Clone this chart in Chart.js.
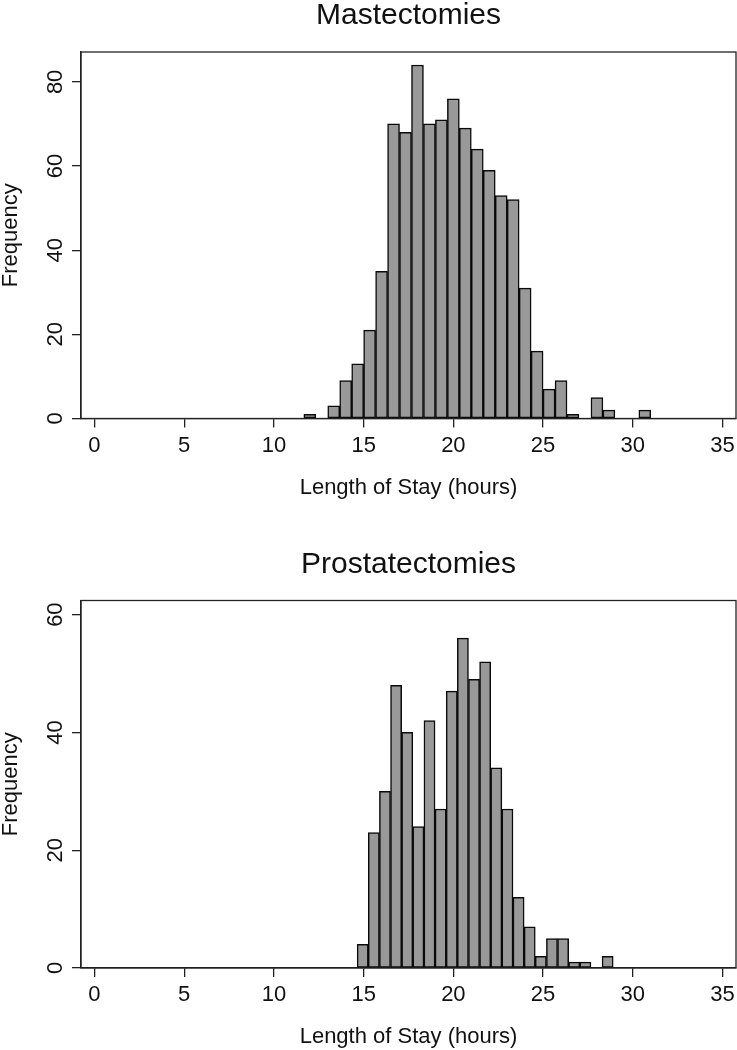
<!DOCTYPE html>
<html>
<head>
<meta charset="utf-8">
<script src="https://cdn.jsdelivr.net/npm/chart.js@4.4.1/dist/chart.umd.min.js"></script>
<style>
  body { margin: 0; background: #fff; }
  canvas { display: block; }
</style>
</head>
<body>
<canvas id="mastChart" width="737" height="525"></canvas>
<canvas id="prosChart" width="737" height="525"></canvas>
<script>
// bin centres (hours) and counts
const mastBins = [12.000, 12.667, 13.333, 14.000, 14.667, 15.333, 16.000, 16.667, 17.333, 18.000,
  18.667, 19.333, 20.000, 20.667, 21.333, 22.000, 22.667, 23.333, 24.000, 24.667,
  25.333, 26.000, 26.667, 27.333, 28.000, 28.667, 29.333, 30.000, 30.667];
const mastCounts = [1, 0, 3, 9, 13, 21, 35, 70, 68, 84,
  70, 71, 76, 69, 64, 59, 53, 52, 31, 16,
  7, 9, 1, 0, 5, 2, 0, 0, 2];

const prosBins = [14.948, 15.568, 16.189, 16.809, 17.430, 18.050, 18.670, 19.291, 19.911, 20.532,
  21.152, 21.772, 22.393, 23.013, 23.634, 24.254, 24.874, 25.495, 26.115, 26.736,
  27.356, 27.976, 28.597];
const prosCounts = [4, 23, 30, 48, 40, 24, 42, 27, 47, 56,
  49, 52, 34, 27, 12, 7, 2, 5, 5, 1,
  1, 0, 2];

const xTicks = [0, 5, 10, 15, 20, 25, 30, 35];
const xTitle = "Length of Stay (hours)";
const yTitle = "Frequency";

Chart.defaults.font.family = '"Liberation Sans", Arial, Helvetica, sans-serif';
Chart.defaults.color = "#111";

// box round the plot area + main title centred over it
const frameTitle = {
  id: "frameTitle",
  afterDraw(chart, args, opts) {
    const { ctx, chartArea: a } = chart;
    ctx.save();
    ctx.strokeStyle = "#222";
    ctx.lineWidth = 1.3;
    ctx.strokeRect(a.left, a.top, a.right - a.left, a.bottom - a.top);
    ctx.fillStyle = "#111";
    ctx.font = '30px "Liberation Sans", Arial, sans-serif';
    ctx.textAlign = "center";
    ctx.textBaseline = "alphabetic";
    ctx.fillText(opts.text, (a.left + a.right) / 2, a.top - 28);
    ctx.restore();
  }
};

function makeHist(id, title, bins, counts, yMax, pad) {
  return new Chart(document.getElementById(id), {
    type: "bar",
    data: {
      datasets: [{
        data: bins.map((b, i) => ({ x: b, y: counts[i] })),
        backgroundColor: "#999999",
        borderColor: "#0a0a0a",
        borderWidth: 1.5,
        borderSkipped: false,
        barPercentage: 1,
        categoryPercentage: 1
      }]
    },
    options: {
      responsive: false,
      animation: false,
      devicePixelRatio: 1,
      layout: { padding: pad },
      plugins: {
        legend: { display: false },
        tooltip: { enabled: false },
        frameTitle: { text: title }
      },
      scales: {
        x: {
          type: "linear",
          min: -0.75,
          max: 35.75,
          offset: false,
          afterBuildTicks: s => { s.ticks = xTicks.map(v => ({ value: v })); },
          grid: { offset: false, drawOnChartArea: false, drawTicks: true, tickLength: 9, color: "#222", lineWidth: 1.3 },
          border: { color: "#222", width: 1.3 },
          ticks: { padding: 5, maxRotation: 0, autoSkip: false, font: { size: 22 } },
          title: { display: true, text: xTitle, font: { size: 22, lineHeight: 1 }, padding: 0 },
          afterFit: s => { s.height = 80; s.paddingLeft = 0; s.paddingRight = 0; }
        },
        y: {
          min: 0,
          max: yMax,
          grid: { offset: false, drawOnChartArea: false, drawTicks: true, tickLength: 9, color: "#222", lineWidth: 1.3 },
          border: { color: "#222", width: 1.3 },
          ticks: { stepSize: 20, includeBounds: false, minRotation: 90, maxRotation: 90, crossAlign: "center", padding: 4, font: { size: 22 } },
          title: { display: true, text: yTitle, font: { size: 22, lineHeight: 1 }, padding: 0 },
          afterFit: s => { s.width = 81; s.paddingTop = 0; s.paddingBottom = 0; }
        }
      }
    },
    plugins: [frameTitle]
  });
}

makeHist("mastChart", "Mastectomies", mastBins, mastCounts, 87.1, { top: 52, right: 1, bottom: 26.5, left: 0 });
makeHist("prosChart", "Prostatectomies", prosBins, prosCounts, 62.4, { top: 75.5, right: 1, bottom: 2, left: 0 });
</script>
</body>
</html>
